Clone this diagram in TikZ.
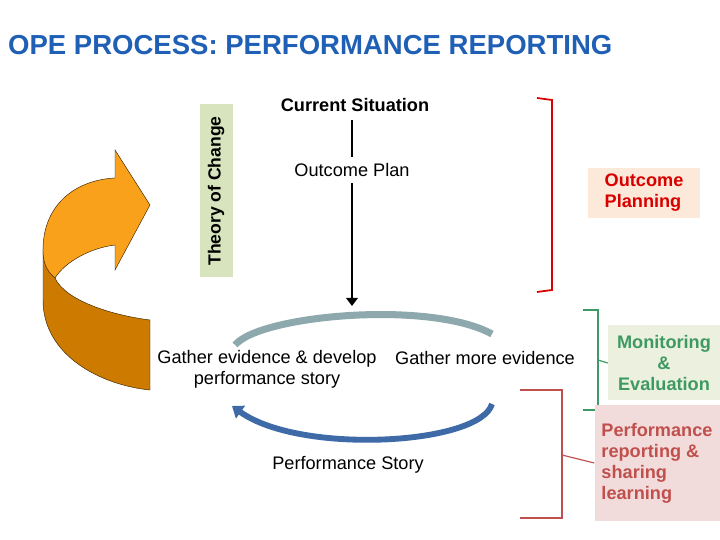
\documentclass[tikz,border=0pt]{standalone}
\usepackage{fontspec}
\setmainfont{Liberation Sans}
\usetikzlibrary{positioning,arrows.meta}
\definecolor{titleblue}{HTML}{1F5FB5}
\definecolor{tocgreen}{HTML}{D7E4BD}
\definecolor{planfill}{HTML}{FDE9D9}
\definecolor{monfill}{HTML}{EBF1DE}
\definecolor{repfill}{HTML}{F2DCDB}
\definecolor{mongreen}{HTML}{3E9A62}
\definecolor{repred}{HTML}{C0504D}
\definecolor{arcgrey}{HTML}{8EA9AD}
\definecolor{arcblue}{HTML}{3E6AA8}
\definecolor{frontor}{HTML}{F9A11B}
\definecolor{backor}{HTML}{CC7A00}
\tikzset{
  lbl/.style={font=\fontsize{15.5}{18}\selectfont, align=center, inner sep=2pt},
  side/.style={font=\fontsize{15.5}{18}\bfseries\selectfont, align=center, inner sep=2pt},
  brack/.style={line width=1.5pt}
}
\begin{document}
\begin{tikzpicture}[x=0.03cm,y=-0.03cm]
  \useasboundingbox (0,0) rectangle (720,540);
  % title
  \node[anchor=west, text=titleblue, font=\fontsize{23.5}{26}\bfseries\selectfont] (title) at (4,45)
    {OPE PROCESS: PERFORMANCE REPORTING};

  % turning arrow
  \fill[backor, draw=black!70!backor, line width=0.4pt]
    (43,250) -- (43,300) .. controls (43,355) and (100,385) .. (150,390)
    -- (150,320) .. controls (110,315) and (65,300) .. (55,278) -- cycle;
  \fill[frontor, draw=black!70!backor, line width=0.4pt]
    (43,250) .. controls (43,205) and (75,180) .. (115,178) -- (115,150) -- (150,205)
    -- (115,270) -- (115,245) .. controls (90,248) and (65,262) .. (55,278)
    .. controls (45,270) and (43,260) .. (43,250) -- cycle;

  % theory of change
  \node[fill=tocgreen, minimum width=173*0.03cm, minimum height=33*0.03cm, rotate=90,
        font=\fontsize{15}{17}\bfseries\selectfont] (toc) at (216,191) {Theory of Change};

  % central line
  \coordinate (top) at (352,120);
  \coordinate (bot) at (352,306);
  \draw[line width=2.5pt, -{Triangle[width=10pt,length=7pt]}] (top) -- (bot);
  \node[lbl, font=\fontsize{15.5}{18}\bfseries\selectfont] (current) at (355,105) {Current Situation};
  \node[lbl, fill=white, inner sep=5pt] (plan) at (352,170) {Outcome Plan};

  % cycle
  \draw[arcgrey, line width=6pt] (235,345) .. controls (260,315) and (430,300) .. (492,334);
  \draw[arcblue, line width=5pt, -{Triangle[width=13pt,length=9pt]}]
    (492,404) .. controls (480,445) and (300,455) .. (232,406);
  \node[lbl] (gather) at (267,369) {Gather evidence \& develop\\performance story};
  \node[lbl] (more) at (485,358) {Gather more evidence};
  \node[lbl] (story) at (348,465) {Performance Story};

  % brackets
  \draw[red!85!black, brack] (537,98) -- (552,100) -- (552,290) -- (537,292);
  \node[side, fill=planfill, text=red!85!black, align=left, minimum width=112*0.03cm,
        minimum height=50*0.03cm] (planning) at (644,193) {Outcome\\Planning};
  \draw[mongreen, brack] (583,310) -- (598,310) -- (598,410) -- (583,410);
  \node[side, fill=monfill, text=mongreen, minimum width=112*0.03cm,
        minimum height=75*0.03cm] (monitor) at (664,363) {Monitoring\\\&\\Evaluation};
  \draw[mongreen, line width=1pt] (598,360) -- (monitor.west);
  \draw[repred, brack] (520,390) -- (562,390) -- (562,518) -- (520,518);
  \node[side, fill=repfill, text=repred, align=left, minimum width=125*0.03cm,
        minimum height=115*0.03cm] (report) at (657,463)
        {Performance\\reporting \&\\sharing\\learning};
  \draw[repred, line width=1pt] (562,455) -- (report.west);
\end{tikzpicture}
\end{document}
